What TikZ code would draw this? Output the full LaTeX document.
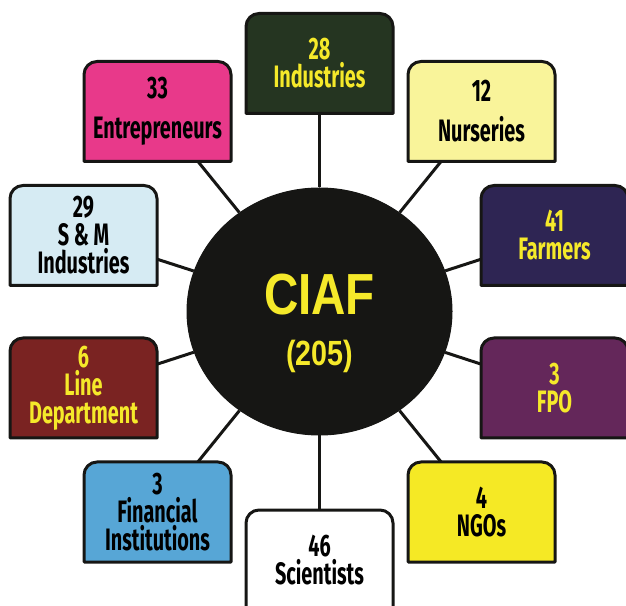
\documentclass[tikz,border=0pt]{standalone}
\usepackage{fontspec}
\setmainfont{Liberation Sans}
\newfontfamily\cardfont[FakeStretch=0.64]{Fira Sans}
\newfontfamily\hubfont[FakeStretch=0.82]{Liberation Sans}
\usepackage{tikz}
\usetikzlibrary{shapes, backgrounds}
\definecolor{ink}{RGB}{22, 22, 20}
\definecolor{gold}{RGB}{245, 233, 42}
\definecolor{forest}{RGB}{37, 53, 33}
\definecolor{rose}{RGB}{232, 57, 138}
\definecolor{cream}{RGB}{249, 244, 154}
\definecolor{sky}{RGB}{214, 235, 243}
\definecolor{navy}{RGB}{46, 37, 83}
\definecolor{maroon}{RGB}{122, 35, 34}
\definecolor{plum}{RGB}{100, 39, 90}
\definecolor{azure}{RGB}{87, 166, 214}
\definecolor{lemon}{RGB}{245, 233, 37}

\begin{document}
\begin{tikzpicture}[
   x=1pt, y=1pt,
   hub/.style={ellipse, draw=ink, fill=ink, line width=1, text=gold,
               inner sep=0, minimum width=265, minimum height=247, align=center,
               font=\hubfont\bfseries\fontsize{35}{51}\selectfont},
   card/.style={rectangle, inner sep=0, outer sep=0, minimum width=147,
                minimum height=100, align=center, text=black,
                font=\cardfont\bfseries\fontsize{31}{28}\selectfont},
   darkcard/.style={card, text=gold},
   cardedge/.style={draw=ink, line width=3, line join=round},
   spoke/.style={draw=ink, line width=3}
  ]

  \useasboundingbox (0, 0) rectangle (626, 605);

  % Card Corner Radius
  \pgfmathsetmacro{\r}{13}

  \begin{scope}[shift={(319.5, 293.5)}]

    \node (CIAF) at (0, 0) [hub] {\rule{0pt}{64pt}{\fontsize{58}{51}\selectfont CIAF}\\(205)};

    \node (IND) at (0, 248) [darkcard] {28\\Industries};
    \node (ENT) at (-162, 200) [card] {33\\[12pt]Entrepreneurs};
    \node (NUR) at (162, 200) [card] {12\\[12pt]Nurseries};
    \node (SMI) at (-236, 76) [card] {29\\S \& M\\Industries};
    \node (FAR) at (235, 76) [darkcard] {41\\Farmers};
    \node (LIN) at (-236, -76.5) [darkcard] {6\\Line\\Department};
    \node (FPO) at (235, -76.5) [darkcard] {3\\FPO};
    \node (FIN) at (-162, -200.5) [card] {3\\Financial\\Institutions};
    \node (NGO) at (162, -200.5) [card] {4\\NGOs};
    \node (SCI) at (0, -248.5) [card] {46\\Scientists};

    \begin{scope}[on background layer]
      \foreach \N/\C in {IND/forest, ENT/rose, NUR/cream, SMI/sky, FAR/navy,
                         LIN/maroon, FPO/plum, FIN/azure, NGO/lemon, SCI/white} {
        \draw[cardedge, fill=\C] (\N.south west) -- ([yshift=-\r]\N.north west)
          arc[start angle=180, end angle=90, radius=\r] -- ([xshift=-\r]\N.north east)
          arc[start angle=90, end angle=0, radius=\r] -- (\N.south east) -- cycle;
      }
    \end{scope}

    \foreach \B in {IND, ENT, NUR, SMI, FAR, LIN, FPO, FIN, NGO, SCI} {
      \draw[spoke] (\B) -- (CIAF);
    }

  \end{scope}

\end{tikzpicture}
\end{document}
